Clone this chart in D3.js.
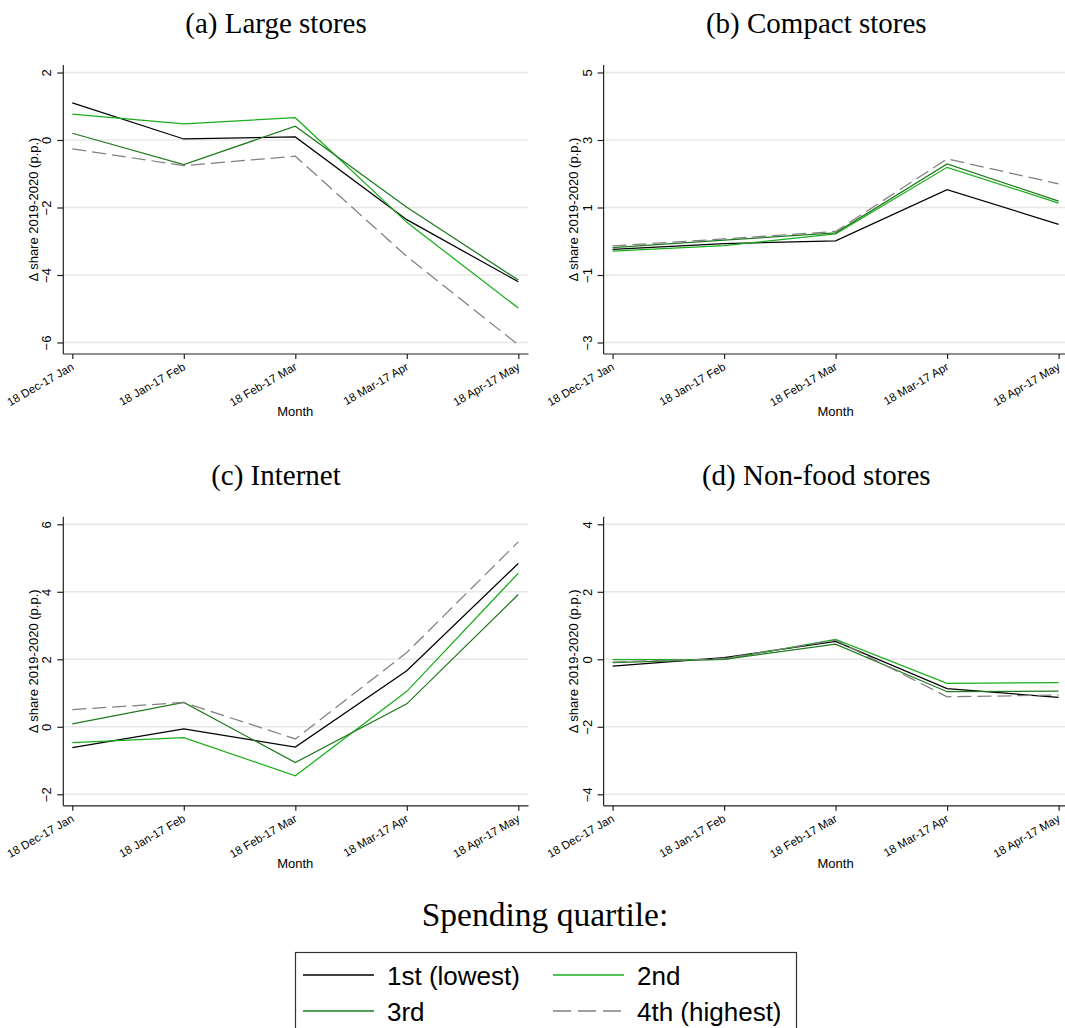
<!DOCTYPE html>
<html>
<head>
<meta charset="utf-8">
<script src="https://cdn.jsdelivr.net/npm/d3@7"></script>
<style>
body { margin: 0; background: #fff; }
</style>
</head>
<body>
<script>
// ====== DATA ======
var months = ["18 Dec-17 Jan", "18 Jan-17 Feb", "18 Feb-17 Mar", "18 Mar-17 Apr", "18 Apr-17 May"];
var quartiles = ["1st (lowest)", "2nd", "3rd", "4th (highest)"];
var titles = ["(a) Large stores", "(b) Compact stores", "(c) Internet", "(d) Non-food stores"];

// one row per quartile, one value per month
var large_stores = [
    [1.10, 0.03, 0.09, -2.36, -4.20],
    [0.77, 0.48, 0.66, -2.44, -4.98],
    [0.20, -0.73, 0.41, -1.99, -4.15],
    [-0.26, -0.76, -0.48, -3.45, -6.07]
];
var compact_stores = [
    [-0.24, -0.07, 0.01, 1.53, 0.50],
    [-0.29, -0.13, 0.22, 2.19, 1.13],
    [-0.19, 0.03, 0.25, 2.29, 1.19],
    [-0.14, 0.07, 0.29, 2.44, 1.70]
];
var internet = [
    [-0.62, -0.06, -0.60, 1.66, 4.84],
    [-0.47, -0.32, -1.45, 1.05, 4.55],
    [0.09, 0.72, -1.06, 0.68, 3.92],
    [0.51, 0.72, -0.36, 2.20, 5.48]
];
var nonfood_stores = [
    [-0.20, 0.05, 0.53, -0.87, -1.13],
    [-0.01, 0.00, 0.59, -0.71, -0.69],
    [-0.10, 0.00, 0.45, -0.96, -0.94],
    [-0.08, 0.02, 0.57, -1.11, -1.06]
];

var ticks_large = [-6, -4, -2, 0, 2];
var ticks_compact = [-3, -1, 1, 3, 5];
var ticks_internet = [-2, 0, 2, 4, 6];
var ticks_nonfood = [-4, -2, 0, 2, 4];

// ====== STYLE ======
var colors = ["#000000", "#1aae1a", "#1f7a1f", "#808080"];
var dashes = [null, null, null, "14,6"];
var sans = "'Liberation Sans', Arial, sans-serif";
var serif = "'Liberation Serif', 'Times New Roman', serif";

var W = 1065, H = 1028;
var svg = d3.select("body").append("svg")
    .attr("width", W)
    .attr("height", H)
    .style("display", "block");

var panels = [
    { ox: 0, oy: 0, title: titles[0], data: large_stores, ticks: ticks_large },
    { ox: 540.3, oy: 0, title: titles[1], data: compact_stores, ticks: ticks_compact },
    { ox: 0, oy: 451.8, title: titles[2], data: internet, ticks: ticks_internet },
    { ox: 540.3, oy: 451.8, title: titles[3], data: nonfood_stores, ticks: ticks_nonfood }
];

// panel geometry (local coords)
var axisX = 63.3, plotRight = 528.5, plotTop = 65, axisY = 354;
var tickTop = 72.5, tickBottom = 342.5;

panels.forEach(function(p) {
    var g = svg.append("g").attr("transform", "translate(" + p.ox + "," + p.oy + ")");

    var x = d3.scalePoint().domain(months).range([72.3, 518.3]);
    var y = d3.scaleLinear()
        .domain([d3.min(p.ticks), d3.max(p.ticks)])
        .range([tickBottom, tickTop]);

    // ====== TITLE ======
    g.append("text")
        .attr("x", 276)
        .attr("y", 33)
        .attr("text-anchor", "middle")
        .style("font-family", serif)
        .style("font-size", "29px")
        .text(p.title);

    // ====== GRID ======
    g.selectAll(".grid")
        .data(p.ticks)
        .enter().append("line")
            .attr("class", "grid")
            .attr("x1", axisX)
            .attr("x2", plotRight)
            .attr("y1", function(d) { return y(d); })
            .attr("y2", function(d) { return y(d); })
            .style("stroke", "#e8e8e8")
            .style("stroke-width", 1.5);

    // ====== LINES ======
    var line = d3.line()
        .x(function(d, i) { return x(months[i]); })
        .y(function(d) { return y(d); });

    g.selectAll(".series")
        .data(p.data)
        .enter().append("path")
            .attr("class", "series")
            .attr("d", line)
            .style("fill", "none")
            .style("stroke", function(d, i) { return colors[i]; })
            .style("stroke-width", 1.25)
            .style("stroke-dasharray", function(d, i) { return dashes[i]; });

    // ====== Y AXIS ======
    var yAxis = d3.axisLeft(y).tickValues(p.ticks).tickSize(6).tickPadding(5);
    var ya = g.append("g")
        .attr("transform", "translate(" + axisX + ",0)")
        .call(yAxis);
    ya.select(".domain").attr("d", "M0," + plotTop + "V" + axisY);
    ya.selectAll("line, path").style("stroke", "#222").style("stroke-width", 1.2);
    ya.selectAll("text")
        .attr("x", null).attr("dy", null)
        .attr("transform", "translate(-12,0) rotate(-90)")
        .attr("text-anchor", "middle")
        .style("font-family", sans)
        .style("font-size", "13px")
        .style("fill", "#000");

    g.append("text")
        .attr("transform", "translate(38," + ((plotTop + axisY) / 2) + ") rotate(-90)")
        .attr("text-anchor", "middle")
        .style("font-family", sans)
        .style("font-size", "13px")
        .text("\u0394 share 2019-2020 (p.p.)");

    // ====== X AXIS ======
    var xAxis = d3.axisBottom(x).tickSize(5).tickPadding(4);
    var xa = g.append("g")
        .attr("transform", "translate(0," + axisY + ")")
        .call(xAxis);
    xa.select(".domain").attr("d", "M" + axisX + ",0H" + plotRight);
    xa.selectAll("line, path").style("stroke", "#222").style("stroke-width", 1.2);
    xa.selectAll("text")
        .attr("y", null).attr("dy", null)
        .attr("transform", function() { return "translate(2,15) rotate(-30)"; })
        .attr("text-anchor", "end")
        .style("font-family", sans)
        .style("font-size", "11.5px")
        .style("fill", "#000");

    g.append("text")
        .attr("x", x(months[2]))
        .attr("y", 416)
        .attr("text-anchor", "middle")
        .style("font-family", sans)
        .style("font-size", "13px")
        .text("Month");
});

// ====== LEGEND ======
svg.append("text")
    .attr("x", 545)
    .attr("y", 926)
    .attr("text-anchor", "middle")
    .style("font-family", serif)
    .style("font-size", "33.5px")
    .text("Spending quartile:");

svg.append("rect")
    .attr("x", 295.5)
    .attr("y", 952.5)
    .attr("width", 501)
    .attr("height", 120)
    .style("fill", "none")
    .style("stroke", "#333")
    .style("stroke-width", 1.2);

var legendPos = [
    { lx: 303, ly: 975 },
    { lx: 553, ly: 975 },
    { lx: 303, ly: 1011 },
    { lx: 553, ly: 1011 }
];

var items = svg.selectAll(".legend")
    .data(quartiles)
    .enter().append("g")
        .attr("class", "legend")
        .attr("transform", function(d, i) { return "translate(" + legendPos[i].lx + "," + legendPos[i].ly + ")"; });

items.append("line")
    .attr("x1", 0).attr("x2", 71)
    .attr("y1", 0).attr("y2", 0)
    .style("stroke", function(d, i) { return colors[i]; })
    .style("stroke-width", 1.5)
    .style("stroke-dasharray", function(d, i) { return i == 3 ? "18,7" : null; });

items.append("text")
    .attr("x", 84)
    .attr("y", 10)
    .style("font-family", sans)
    .style("font-size", "26px")
    .text(function(d) { return d; });
</script>
</body>
</html>
